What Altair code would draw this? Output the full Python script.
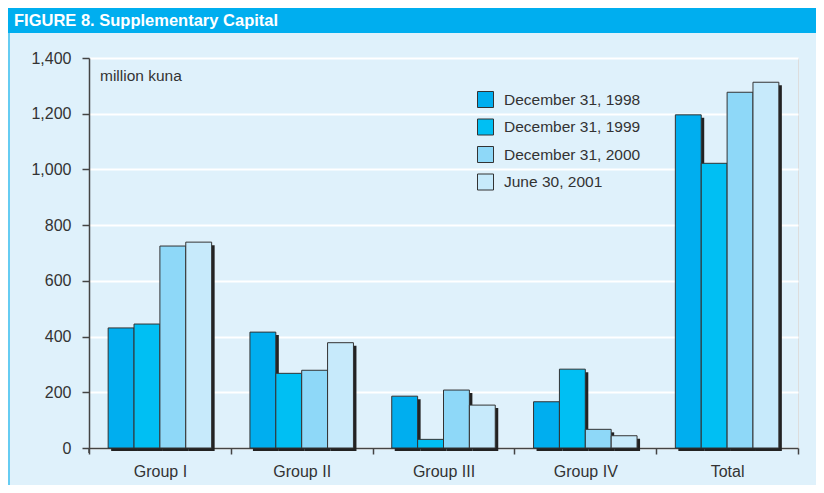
import altair as alt
import pandas as pd

groups = ["Group I", "Group II", "Group III", "Group IV", "Total"]
series = ["December 31, 1998", "December 31, 1999", "December 31, 2000", "June 30, 2001"]
v1998 = [431, 416, 186, 166, 1196]
v1999 = [445, 268, 31, 283, 1022]
v2000 = [725, 279, 208, 67, 1277]
v2001 = [739, 378, 154, 44, 1313]
colors = ["#00AEEF", "#00BFF3", "#8ED8F8", "#C7EAFB"]
title_text = "FIGURE 8. Supplementary Capital"
unit_text = "million kuna"

rows = []
for s, vals in zip(series, [v1998, v1999, v2000, v2001]):
    for g, v in zip(groups, vals):
        rows.append({"group": g, "series": s, "value": v})
df = pd.DataFrame(rows)

FONT = "Liberation Sans"
W, H = 709, 390
PL, PT, PR, PB = 81, 50, 18, 37
STEP = W / len(groups)
SH = 3  # shadow shift

x_enc = alt.X("group:N", sort=groups,
              scale=alt.Scale(paddingInner=0, paddingOuter=0),
              axis=alt.Axis(title=None, labelAngle=0, tickBand="extent",
                            domainColor="#444", domainWidth=1.5,
                            tickColor="#444", tickWidth=1.5, tickSize=6,
                            labelFontSize=16, labelColor="#333",
                            labelPadding=9, grid=False))
y_enc = alt.Y("value:Q", scale=alt.Scale(domain=[0, 1400], nice=False),
              axis=alt.Axis(title=None, values=list(range(0, 1401, 200)),
                            format=",d", domainColor="#444", domainWidth=1.5,
                            tickColor="#444", tickWidth=1.5, tickSize=7,
                            labelFontSize=16, labelColor="#333", labelPadding=11,
                            grid=True, gridColor="#FFFFFF", gridWidth=2))

shadow = alt.Chart(df).mark_bar(color="#222222", yOffset=SH, y2Offset=2).encode(
    x=x_enc, y=y_enc,
    xOffset=alt.XOffset("series:N", sort=series,
                        scale=alt.Scale(paddingInner=0, paddingOuter=0.74,
                                        range=[SH, STEP + SH])))

bars = alt.Chart(df).mark_bar(stroke="#333333", strokeWidth=1).encode(
    x=x_enc, y=y_enc,
    xOffset=alt.XOffset("series:N", sort=series,
                        scale=alt.Scale(paddingInner=0, paddingOuter=0.74,
                                        range=[0, STEP])),
    color=alt.Color("series:N", sort=series,
                    scale=alt.Scale(domain=series, range=colors),
                    legend=alt.Legend(title=None, orient="none",
                                      legendX=388, legendY=33,
                                      symbolType="square", symbolSize=256,
                                      symbolStrokeColor="#333333",
                                      symbolStrokeWidth=1,
                                      labelFontSize=15.5, labelColor="#333",
                                      labelOffset=10, rowPadding=6.5,
                                      padding=0))
)

one = pd.DataFrame({"t": [title_text]})
title_bar = alt.Chart(one).mark_rect(color="#00AEEF").encode(
    x=alt.value(-PL), x2=alt.value(W + PR), y=alt.value(-PT), y2=alt.value(-25))
title = alt.Chart(one).mark_text(align="left", baseline="alphabetic", fontSize=16.5,
                                 fontWeight="bold", color="white", font=FONT).encode(
    text="t:N", x=alt.value(-75), y=alt.value(-32))
border = alt.Chart(one).mark_rule(color="#66CCF2", strokeWidth=2).encode(
    x=alt.value(-PL + 1), y=alt.value(-25), y2=alt.value(H + PB))
axis_ext = alt.Chart(one).mark_rule(color="#444", strokeWidth=1.5).encode(
    x=alt.value(0), y=alt.value(H), y2=alt.value(H + 5))

unit = alt.Chart(pd.DataFrame({"t": [unit_text]})).mark_text(
    align="left", baseline="middle", fontSize=15.5, color="#333", font=FONT).encode(
    text="t:N", x=alt.value(11), y=alt.value(18))

chart = alt.layer(title_bar, title, border, shadow, bars, axis_ext, unit).resolve_scale(
    xOffset="independent"
).properties(
    width=W, height=H,
    padding={"left": PL, "top": PT, "right": PR, "bottom": PB},
    autosize=alt.AutoSizeParams(type="none"),
    background="#DFF1FB",
).configure_view(stroke=None).configure(font=FONT)

chart.save("out.html", embed_options={"renderer": "svg", "actions": False})
